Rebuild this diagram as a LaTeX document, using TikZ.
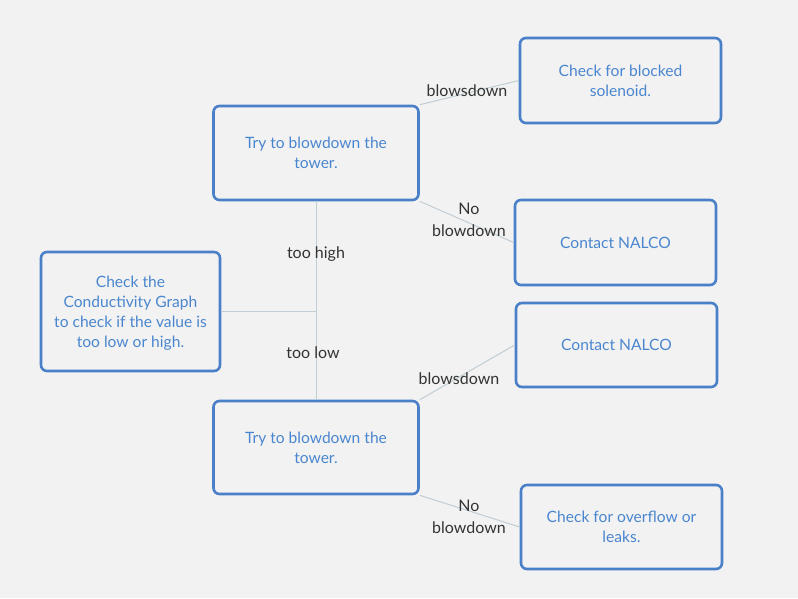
\documentclass[tikz,border=0pt]{standalone}
\usepackage{fontspec}
\setmainfont{Lato}
\definecolor{bg}{HTML}{F2F2F2}
\definecolor{boxline}{HTML}{4A80C8}
\definecolor{boxtext}{HTML}{4A86CF}
\definecolor{conn}{HTML}{C0CDD4}
\definecolor{lbltext}{HTML}{333333}
\tikzset{
  box/.style={draw=boxline, line width=2.6pt, rounded corners=6pt, fill=bg,
    text=boxtext, align=center, inner sep=0pt, text depth=-4pt,
    font=\fontsize{15.6}{20}\selectfont},
  lbl/.style={text=lbltext, align=center, inner sep=0pt,
    font=\fontsize{16}{22}\selectfont},
  conline/.style={draw=conn, line width=1pt}
}
\begin{document}
\begin{tikzpicture}[x=1pt,y=-1pt]
\fill[bg] (0,0) rectangle (798,598);
\useasboundingbox (0,0) rectangle (798,598);
\node[box, minimum width=179pt, minimum height=119pt] (A) at (130.5,311.5)
  {Check the\\Conductivity Graph\\to check if the value is\\too low or high.};
\node[box, minimum width=205pt, minimum height=94pt] (B) at (316,153)
  {Try to blowdown the\\tower.};
\node[box, minimum width=201pt, minimum height=85pt] (C) at (620.5,80.5)
  {Check for blocked\\solenoid.};
\node[box, minimum width=201pt, minimum height=85pt] (D) at (615.5,242.5)
  {Contact NALCO};
\node[box, minimum width=201pt, minimum height=84pt] (E) at (616.5,345)
  {Contact NALCO};
\node[box, minimum width=205pt, minimum height=93pt] (F) at (316,447.5)
  {Try to blowdown the\\tower.};
\node[box, minimum width=201pt, minimum height=84pt] (G) at (621.5,527)
  {Check for overflow or\\leaks.};
\coordinate (J) at (B.south |- A.east);
\draw[conline] (A.east) -- (J);
\draw[conline] (B.south) -- (F.north);
\draw[conline] (B.north east) -- (C.west);
\draw[conline] (B.south east) -- (D.west);
\draw[conline] (F.north east) -- (E.west);
\draw[conline] (F.south east) -- (G.west);
\node[lbl] (l1) at (316,254) {too high};
\node[lbl] (l2) at (313,353) {too low};
\node[lbl] (l3) at (467,91) {blowsdown};
\node[lbl] (l4) at (469,220) {No\\blowdown};
\node[lbl] (l5) at (459,379) {blowsdown};
\node[lbl] (l6) at (469,517) {No\\blowdown};
\end{tikzpicture}
\end{document}
